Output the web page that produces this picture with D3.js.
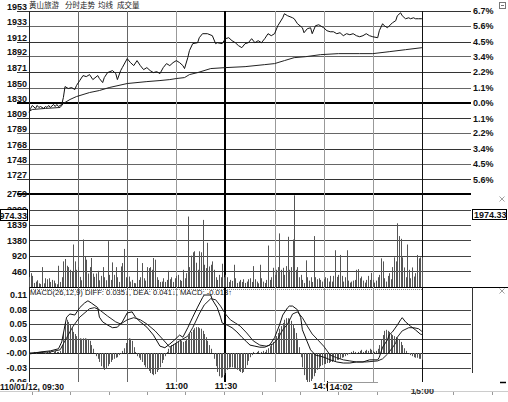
<!DOCTYPE html>
<html><head><meta charset="utf-8">
<script src="https://cdn.jsdelivr.net/npm/d3@7"></script>
<style>
html,body{margin:0;padding:0;background:#fff;overflow:hidden;}
svg{display:block;}
</style></head><body>
<svg id="c" width="508" height="402"></svg>
<script>
// ---------------- data ----------------
const titleWords = ["黄山旅游", "分时走势", "均线", "成交量"];
const priceMinutes = [0,1,2,4,5,6,7,9,10,11,12,13,15,16,17,18,20,21,22,24,26,28,29,31,33,35,37,39,42,43,45,46,48,51,53,54,56,57,60,62,64,66,68,70,72,74,76,78,80,82,84,86,88,90,92,94,95,97,98,100,103,104,106,109,112,114,115,118,120,122,124,126,128,130,132,134,136,138,140,142,144,146,148,150,152,155,156,158,161,162,164,167,168,170,172,173,175,177,180,182,184,186,188,190,192,194,196,198,200,202,204,206,208,210,213,214,216,217,219,222,224,225,227,228,230,232,233,235,236,238,240];
const prices = [1816.6,1822.0,1826.0,1822.0,1826.0,1823.3,1824.6,1822.0,1824.6,1823.3,1826.0,1823.3,1827.3,1824.6,1827.3,1824.6,1827.3,1836.7,1851.4,1848.8,1850.1,1847.4,1852.8,1859.5,1866.2,1864.8,1867.5,1860.8,1866.2,1862.2,1856.8,1863.5,1870.2,1872.9,1868.9,1860.8,1872.9,1876.9,1889.0,1883.6,1879.6,1886.3,1879.6,1874.2,1876.9,1872.9,1870.2,1871.5,1868.9,1876.9,1882.3,1879.6,1883.6,1886.3,1883.6,1879.6,1875.6,1890.3,1899.7,1909.1,1910.4,1917.1,1922.5,1922.5,1919.8,1909.1,1910.4,1909.1,1915.8,1917.1,1913.1,1910.4,1906.4,1903.7,1909.1,1910.4,1915.8,1910.4,1913.1,1910.4,1915.8,1922.5,1919.8,1922.5,1933.2,1943.9,1949.3,1946.6,1943.9,1942.6,1935.9,1930.5,1923.8,1929.2,1930.5,1922.5,1933.2,1934.5,1930.5,1926.5,1925.1,1925.1,1922.5,1923.8,1919.8,1922.5,1921.1,1922.5,1919.8,1918.4,1919.8,1922.5,1919.8,1918.4,1917.1,1926.5,1935.9,1933.2,1930.5,1937.2,1939.9,1946.6,1950.6,1946.6,1942.6,1943.9,1942.6,1943.9,1942.6,1942.6,1942.6];
const avgMinutes = [0,2,10,19,21,25,29,37,43,49,60,72,80,86,90,95,98,103,111,120,132,144,150,156,162,169,178,189,202,210,220,230,240];
const avgPrices = [1818.0,1820.6,1822.0,1823.3,1828.7,1834.0,1838.0,1843.4,1846.1,1850.1,1855.5,1858.1,1859.5,1860.8,1862.2,1863.5,1867.5,1870.2,1875.6,1876.9,1878.2,1880.9,1882.3,1886.3,1890.3,1891.6,1894.3,1895.7,1895.7,1895.7,1898.3,1901.0,1903.7];
const volumes = [
300,410,330,120,160,200,110,90,590,110,
260,230,260,150,210,190,110,80,630,150,
290,760,830,630,590,510,460,1260,760,510,
590,300,200,1410,900,810,400,590,860,400,
300,400,480,200,330,590,290,200,1360,360,
210,730,360,590,290,150,610,710,1130,290,
260,310,160,210,120,110,860,210,290,710,
260,190,590,560,590,510,860,810,290,210,
150,160,260,150,210,480,230,290,150,260,
330,360,210,180,510,260,410,2090,590,930,
1030,1060,720,510,1060,1030,1990,660,560,1310,
610,660,760,510,290,210,360,290,690,290,
360,290,150,210,180,660,260,120,160,210,
150,230,120,160,230,260,150,620,230,160,
110,660,260,160,120,210,1230,210,290,570,
360,510,590,1590,510,570,360,620,1490,510,
590,1410,2720,510,590,290,360,210,120,790,
290,190,290,150,1510,290,230,260,210,160,
230,290,260,160,330,160,330,1090,300,360,
950,330,160,290,1090,190,130,160,190,210,
510,530,260,310,190,130,210,330,210,420,
210,130,190,290,360,850,760,260,160,330,
410,230,590,880,760,1890,1510,1430,880,580,
290,1260,510,260,580,310,410,950,850,880,
880];
const diffMinutes = [0,7,13,18,20,22,23,25,28,31,34,36,38,42,43,45,48,51,54,57,60,63,65,68,72,76,80,83,86,89,92,94,97,100,103,106,107,111,112,115,117,118,121,124,127,130,133,135,138,141,144,147,150,153,155,158,159,161,164,166,167,170,172,175,178,181,184,188,192,196,200,204,208,213,214,216,219,220,222,225,227,228,230,233,236,239,240];
const diffValues = [-0.002,0.002,0.004,0.008,0.021,0.053,0.068,0.074,0.072,0.086,0.095,0.099,0.095,0.086,0.068,0.059,0.053,0.048,0.049,0.059,0.076,0.078,0.068,0.059,0.049,0.034,0.013,0.010,0.017,0.025,0.034,0.030,0.048,0.068,0.087,0.105,0.110,0.110,0.101,0.086,0.068,0.057,0.053,0.048,0.040,0.030,0.021,0.015,0.013,0.011,0.011,0.015,0.029,0.053,0.072,0.086,0.089,0.089,0.082,0.067,0.044,0.021,0.006,-0.004,-0.006,-0.009,-0.013,-0.017,-0.019,-0.019,-0.017,-0.017,-0.013,-0.013,-0.008,0.011,0.025,0.034,0.040,0.053,0.063,0.067,0.059,0.051,0.044,0.036,0.035];
const deaMinutes = [0,13,19,23,27,31,37,40,43,48,53,56,60,64,68,72,77,82,86,92,97,100,104,107,111,114,117,120,123,126,129,133,137,141,145,149,152,155,158,161,164,167,170,173,177,180,184,188,192,196,200,206,213,216,219,222,224,225,228,232,235,238,240];
const deaValues = [0,0.002,0.006,0.029,0.051,0.068,0.084,0.086,0.082,0.070,0.059,0.055,0.063,0.067,0.063,0.055,0.042,0.025,0.011,0.023,0.032,0.048,0.074,0.091,0.103,0.101,0.089,0.074,0.063,0.057,0.051,0.038,0.023,0.015,0.013,0.017,0.027,0.044,0.055,0.074,0.078,0.067,0.051,0.036,0.023,0.013,-0.004,-0.009,-0.013,-0.015,-0.017,-0.017,-0.015,-0.011,-0.002,0.010,0.019,0.030,0.042,0.048,0.048,0.046,0.041];
const macdHist = [
-0.004,-0.002,0,0.002,-0.002,0.002,0,0.002,0.002,0,
-0.002,0.002,0.004,0.002,0,0.002,0.004,0.002,0.002,0.004,
0.015,0.038,0.057,0.063,0.059,0.053,0.047,0.040,0.036,0.032,
0.028,0.028,0.027,0.028,0.028,0.027,0.025,0.023,0.015,0.008,
0,-0.006,-0.011,-0.017,-0.025,-0.028,-0.032,-0.030,-0.025,-0.021,
-0.017,-0.013,-0.011,-0.009,-0.008,-0.004,-0.002,0.004,0.009,0.019,
0.027,0.028,0.027,0.023,0.011,0.002,-0.006,-0.009,-0.013,-0.017,
-0.023,-0.027,-0.030,-0.034,-0.038,-0.040,-0.042,-0.040,-0.036,-0.032,
-0.027,-0.019,-0.013,-0.006,0.002,0.008,0.011,0.015,0.017,0.019,
0.021,0.023,0.025,0.023,0.021,0.023,0.027,0.032,0.036,0.040,
0.044,0.047,0.049,0.049,0.047,0.046,0.042,0.036,0.030,0.023,
0.015,0.008,0,-0.011,-0.025,-0.036,-0.044,-0.047,-0.046,-0.042,
-0.038,-0.032,-0.028,-0.027,-0.027,-0.028,-0.030,-0.032,-0.034,-0.036,
-0.038,-0.036,-0.030,-0.023,-0.015,-0.008,-0.004,0.002,-0.002,0.002,
0.004,-0.002,0.002,0.004,0.002,0.006,0.009,0.013,0.017,0.021,
0.027,0.032,0.038,0.046,0.051,0.057,0.063,0.066,0.066,0.065,
0.061,0.055,0.047,0.038,0.027,0.011,-0.008,-0.027,-0.042,-0.051,
-0.055,-0.055,-0.053,-0.049,-0.044,-0.038,-0.032,-0.028,-0.025,-0.023,
-0.021,-0.021,-0.019,-0.019,-0.017,-0.017,-0.015,-0.015,-0.013,-0.013,
-0.011,-0.009,-0.008,-0.006,-0.004,-0.002,-0.002,0.002,0.004,0.002,
-0.002,0.002,0.004,0.006,0.002,0.004,0.006,0.004,0.008,0.006,
0.004,0.002,0.004,0.008,0.015,0.025,0.034,0.042,0.044,0.042,
0.040,0.036,0.034,0.032,0.030,0.028,0.025,0.021,0.015,0.009,
0.004,0,-0.002,-0.004,-0.006,-0.008,-0.009,-0.009,-0.011,-0.011,
-0.013];
const priceTicks = [1953,1933,1912,1892,1871,1850,1830,1809,1789,1768,1748,1727];
const pctLabels = ["6.7%","5.6%","4.5%","3.4%","2.2%","1.1%","0.0%","1.1%","2.2%","3.4%","4.5%","5.6%"];
const volTicks = [2759,2299,1839,1380,920,460];
const macdTicks = [0.11,0.0825,0.055,0.0275,0,-0.0275,-0.055];
const macdTickLabels = ["0.11","0.08","0.05","0.03","-0.00","-0.03","-0.06"];
const timeTicks = [90,120,180,240];
const timeLabels = ["11:00","11:30","14:00","15:00"];
const dateLabel = "110/01/12, 09:30";
const crossMinute = 182, crossTimeLabel = "14:02";
const crossVolume = 1974.33, crossVolumeLabel = "1974.33";
const legendText = "MACD(26,12,9) DIFF: 0.035\u2193, DEA: 0.041\u2193, MACD: -0.013\u2191";
const gridMinutes = [30,60,90,120,150,180,210,240];

// ---------------- drawing ----------------
const svg = d3.select("#c");
const FONT = "'Liberation Sans', Arial, sans-serif";
const x = d3.scaleLinear().domain([0,270]).range([29,471]);
const py = d3.scaleLinear().domain([1707,1953]).range([194,11]);
const vy = d3.scaleLinear().domain([0,2759]).range([287,194]);
const my = d3.scaleLinear().domain([-0.055,0.11]).range([382,295]);
const cr = v => Math.round(v) + 0.5;

svg.append("rect").attr("width",508).attr("height",402).attr("fill","#fff");

const grid = svg.append("g");
grid.selectAll(".pg").data(priceTicks.filter(d=>d!==1830)).join("line")
  .attr("x1",17).attr("x2",471)
  .attr("y1",d=>cr(py(d))).attr("y2",d=>cr(py(d)))
  .attr("stroke",(d,i)=> i%2===0 ? "#333" : "#666").attr("stroke-width",1);
grid.append("line").attr("x1",17).attr("x2",471)
  .attr("y1",Math.round(py(1830))).attr("y2",Math.round(py(1830)))
  .attr("stroke","#000").attr("stroke-width",2);
grid.append("line").attr("x1",17).attr("x2",471).attr("y1",194).attr("y2",194)
  .attr("stroke","#000").attr("stroke-width",2);
grid.selectAll(".vg").data(volTicks.slice(1)).join("line")
  .attr("x1",29).attr("x2",471)
  .attr("y1",d=>cr(vy(d))).attr("y2",d=>cr(vy(d)))
  .attr("stroke","#444");
grid.append("line").attr("x1",29).attr("x2",508).attr("y1",cr(vy(0))).attr("y2",cr(vy(0)))
  .attr("stroke","#000");
grid.append("line").attr("x1",29).attr("x2",422).attr("y1",289.5).attr("y2",289.5)
  .attr("stroke","#888").attr("stroke-dasharray","1,1");
grid.selectAll(".mg").data(macdTicks.slice(1,6)).join("line")
  .attr("x1",29).attr("x2",471)
  .attr("y1",d=>cr(my(d))).attr("y2",d=>cr(my(d)))
  .attr("stroke",d=>d===0?"#222":"#444");
grid.selectAll(".vt").data(gridMinutes).join("line")
  .attr("x1",d=> d===120 ? Math.round(x(d)) : cr(x(d)))
  .attr("x2",d=> d===120 ? Math.round(x(d)) : cr(x(d)))
  .attr("y1",11).attr("y2",382)
  .attr("stroke",d=> d===120 ? "#000" : d===240 ? "#111" : (d===30||d===60) ? "#666" : "#999")
  .attr("stroke-width",d=> d===120 ? 2 : 1);
grid.append("line").attr("x1",29.5).attr("x2",29.5).attr("y1",11).attr("y2",382).attr("stroke","#222");
grid.append("line").attr("x1",472.5).attr("x2",472.5).attr("y1",287).attr("y2",373).attr("stroke","#333");

// volume bars
svg.append("g").selectAll("line").data(volumes).join("line")
  .attr("x1",(d,i)=>cr(x(i))).attr("x2",(d,i)=>cr(x(i)))
  .attr("y1",vy(0)).attr("y2",d=>vy(d))
  .attr("stroke","#555").attr("stroke-width",1);

// macd histogram
svg.append("g").selectAll("line").data(macdHist).join("line")
  .attr("x1",(d,i)=>cr(x(i))).attr("x2",(d,i)=>cr(x(i)))
  .attr("y1",my(0)).attr("y2",d=>my(d))
  .attr("stroke","#555").attr("stroke-width",1);

const zip = (a,b)=>a.map((m,i)=>({m, v:b[i]}));
const lp = d3.line().x(d=>x(d.m)).y(d=>py(d.v));
const lm = d3.line().x(d=>x(d.m)).y(d=>my(d.v));
svg.append("path").attr("d",lp(zip(avgMinutes,avgPrices))).attr("fill","none").attr("stroke","#222").attr("stroke-width",1);
svg.append("path").attr("d",lp(zip(priceMinutes,prices))).attr("fill","none").attr("stroke","#111").attr("stroke-width",1);
svg.append("path").attr("d",lm(zip(deaMinutes,deaValues))).attr("fill","none").attr("stroke","#222").attr("stroke-width",1);
svg.append("path").attr("d",lm(zip(diffMinutes,diffValues))).attr("fill","none").attr("stroke","#111").attr("stroke-width",1);

// legend
svg.append("text").attr("x",30).attr("y",295).attr("font-family",FONT).attr("font-size",7.5)
  .attr("fill","#111").attr("textLength",202).attr("lengthAdjust","spacingAndGlyphs").text(legendText);

// title
const titleX = [29,65,98,117];
svg.selectAll(".tt").data(titleWords).join("text")
  .attr("x",(d,i)=>titleX[i]).attr("y",8)
  .attr("font-family","'Noto Sans CJK SC', sans-serif").attr("font-size",7.5).attr("fill","#222")
  .text(d=>d);

function styleAxis(g){
  g.select(".domain").remove();
  g.attr("font-family",FONT).attr("font-size",9).attr("font-weight","bold");
  g.selectAll("text").attr("fill","#111");
}
svg.append("g").attr("transform","translate(29,0)")
  .call(d3.axisLeft(py).tickValues(priceTicks).tickSize(0).tickPadding(2).tickFormat(d3.format("d")))
  .call(styleAxis).call(g=>g.selectAll("text").attr("dy","-1.5"));
svg.append("g").attr("transform","translate(472,0)")
  .call(d3.axisRight(py).tickValues(priceTicks).tickSize(0).tickPadding(1).tickFormat((d,i)=>pctLabels[i]))
  .call(styleAxis);
svg.append("g").attr("transform","translate(29,0)")
  .call(d3.axisLeft(vy).tickValues(volTicks).tickSize(0).tickPadding(2).tickFormat(d3.format("d")))
  .call(styleAxis);
svg.append("g").attr("transform","translate(29,0)")
  .call(d3.axisLeft(my).tickValues(macdTicks).tickSize(0).tickPadding(2).tickFormat((d,i)=>macdTickLabels[i]))
  .call(styleAxis);

// crosshair volume boxes
const cy = vy(crossVolume);
svg.append("rect").attr("x",0.5).attr("y",Math.round(cy)-10.5).attr("width",27).attr("height",11)
  .attr("fill","#fff").attr("stroke","#000");
svg.append("text").attr("x",27).attr("y",Math.round(cy)-1.5).attr("text-anchor","end")
  .attr("font-family",FONT).attr("font-size",9).attr("font-weight","bold").attr("fill","#111").text(crossVolumeLabel);
svg.append("rect").attr("x",472.5).attr("y",Math.round(cy)-10.5).attr("width",34).attr("height",10)
  .attr("fill","#fff").attr("stroke","#000");
svg.append("text").attr("x",474).attr("y",Math.round(cy)-2).attr("font-family",FONT).attr("font-size",9)
  .attr("font-weight","bold").attr("fill","#111").text(crossVolumeLabel);

function cross(cx,cy){
  svg.append("path").attr("d",`M${cx-2.5},${cy-2.5}L${cx+2.5},${cy+2.5}M${cx+2.5},${cy-2.5}L${cx-2.5},${cy+2.5}`)
    .attr("stroke","#888").attr("stroke-width",0.8);
}
cross(502,199); cross(502,291);
svg.append("rect").attr("x",499.5).attr("y",2.5).attr("width",6).attr("height",6).attr("fill","none").attr("stroke","#777");
svg.append("line").attr("x1",501).attr("x2",504).attr("y1",5.5).attr("y2",5.5).attr("stroke","#777");

// bottom time strip
svg.append("rect").attr("x",0).attr("y",382).attr("width",508).attr("height",20).attr("fill","#fff");
svg.append("line").attr("x1",0).attr("x2",508).attr("y1",391.5).attr("y2",391.5).attr("stroke","#ccc");
svg.append("g").selectAll("line").data(d3.range(32,500,38.3)).join("line")
  .attr("x1",d=>cr(d)).attr("x2",d=>cr(d)).attr("y1",392).attr("y2",395).attr("stroke","#999");
svg.append("line").attr("x1",500).attr("x2",506).attr("y1",382.5).attr("y2",382.5).attr("stroke","#000").attr("stroke-width",1.5);

// clip (in tick-local coordinates) for the half-hidden 15:00 label
svg.append("defs").append("clipPath").attr("id","clip15").append("rect")
  .attr("x",-25).attr("y",7).attr("width",50).attr("height",14);
const tAx = svg.append("g").attr("transform","translate(0,382)")
  .call(d3.axisBottom(x).tickValues(timeTicks).tickSize(0).tickPadding(1).tickFormat((d,i)=>timeLabels[i]))
  .call(styleAxis);
tAx.selectAll(".tick").filter(d=>d===240).attr("clip-path","url(#clip15)")
  .select("text").attr("dy","1.25em").attr("fill","#333");

svg.append("text").attr("x",0).attr("y",389.5).attr("font-family",FONT).attr("font-size",9)
  .attr("font-weight","bold").attr("fill","#111").attr("textLength",64).attr("lengthAdjust","spacingAndGlyphs")
  .text(dateLabel);

// crosshair time box
const bx = cr(x(crossMinute));
svg.append("rect").attr("x",bx).attr("y",381.5).attr("width",26).attr("height",9.5).attr("fill","#fff");
svg.append("line").attr("x1",bx).attr("x2",bx).attr("y1",381).attr("y2",391).attr("stroke","#000");
svg.append("line").attr("x1",bx).attr("x2",378).attr("y1",382.5).attr("y2",382.5).attr("stroke","#999");
svg.append("text").attr("x",bx+2).attr("y",389.5).attr("font-family",FONT).attr("font-size",9)
  .attr("font-weight","bold").attr("fill","#111").text(crossTimeLabel);
</script>
</body></html>
